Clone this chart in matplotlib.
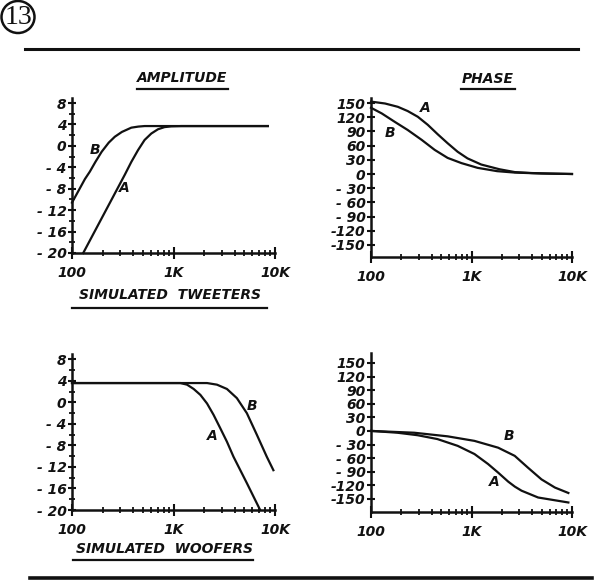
import matplotlib
matplotlib.use('Agg')
import matplotlib.pyplot as plt
from matplotlib.lines import Line2D
from matplotlib.patches import Circle

# ---- data (frequency in Hz) ----
# simulated tweeters, amplitude (dB)
tw_amp_a_f = [129, 331, 384, 447, 519, 604, 703, 815, 950, 1200, 8500]
tw_amp_a_v = [-20, -5.4, -3.0, -0.8, 1.1, 2.3, 3.1, 3.5, 3.65, 3.7, 3.7]
tw_amp_b_f = [100, 115, 134, 150, 170, 196, 230, 264, 310, 384, 450, 520, 8500]
tw_amp_b_v = [-10.6, -8.5, -6.2, -4.8, -3.0, -1.1, 0.6, 1.7, 2.6, 3.4, 3.6, 3.7, 3.7]

# simulated tweeters, phase (deg)
tw_ph_a_f = [100, 138, 185, 232, 292, 367, 461, 579, 728, 913, 1250, 1900,
             2700, 4000, 6000, 10000]
tw_ph_a_v = [153, 149, 142, 133, 121, 104, 84, 65, 47, 33, 20, 10, 4, 2, 1, 0]
tw_ph_b_f = [100, 128, 173, 232, 320, 430, 579, 795, 1150, 1800, 2700, 5000, 10000]
tw_ph_b_v = [140, 128, 110, 93, 72, 51, 34, 23, 13, 6, 3, 1, 0]

# simulated woofers, amplitude (dB)
wf_amp_a_f = [100, 1170, 1360, 1580, 1840, 2140, 2480, 2890, 3360, 3900, 5280, 7140]
wf_amp_a_v = [3.6, 3.6, 3.3, 2.5, 1.4, -0.2, -2.3, -4.8, -7.3, -10.1, -15, -20]
wf_amp_b_f = [100, 2140, 2680, 3360, 4210, 5280, 6620, 8300, 9640]
wf_amp_b_v = [3.6, 3.6, 3.3, 2.5, 0.8, -2.0, -6.0, -10.1, -12.6]

# simulated woofers, phase (deg)
wf_ph_a_f = [100, 183, 291, 458, 729, 1070, 1460, 1840, 2320, 2700, 3150, 4600, 9200]
wf_ph_a_v = [0, -4, -9.5, -18, -33, -51, -73, -92, -112, -123, -132, -147, -158]
wf_ph_b_f = [100, 269, 580, 1070, 1840, 2690, 3640, 4970, 6760, 9200]
wf_ph_b_v = [0, -4, -12, -22, -37, -55, -81, -107, -125, -137]

amp_ticks = [8, 4, 0, -4, -8, -12, -16, -20]
amp_labels = ['8', '4', '0', '- 4', '- 8', '- 12', '- 16', '- 20']
amp_minor = [6, 2, -2, -6, -10, -14, -18]
ph_ticks = [150, 120, 90, 60, 30, 0, -30, -60, -90, -120, -150]
ph_labels = ['150', '120', '90', '60', '30', '0', '- 30', '- 60', '- 90', '-120', '-150']
x_ticks = [100, 1000, 10000]
x_labels = ['100', '1K', '10K']
x_minor = [200, 300, 400, 500, 600, 700, 800, 900,
           2000, 3000, 4000, 5000, 6000, 7000, 8000, 9000]

W, H = 600, 582
INK = '#111111'
plt.rcParams['font.family'] = 'DejaVu Sans'

fig = plt.figure(figsize=(6, 5.82), dpi=100)
fig.patch.set_facecolor('white')


def fx(x):
    return x / W


def fy(y):
    return 1 - y / H


def panel(left, right, top, bottom, ylim, yt, yl, yminor=None):
    ax = fig.add_axes([fx(left), fy(bottom), (right - left) / W, (bottom - top) / H])
    ax.set_xscale('log')
    ax.set_xlim(100, 10000)
    ax.set_ylim(*ylim)
    for s in ('top', 'right'):
        ax.spines[s].set_visible(False)
    for s in ('left', 'bottom'):
        ax.spines[s].set_linewidth(1.8)
        ax.spines[s].set_color(INK)
    tick_font = dict(fontstyle='italic', fontsize=10, fontweight='bold', color=INK)
    ax.set_yticks(yt)
    ax.set_yticklabels(yl, **tick_font)
    if yminor:
        ax.set_yticks(yminor, minor=True)
    ax.set_xticks(x_ticks)
    ax.set_xticklabels(x_labels, **tick_font)
    ax.set_xticks(x_minor, minor=True)
    ax.set_xticklabels([], minor=True)
    ax.tick_params(axis='y', which='major', direction='inout', length=6,
                   width=1.5, pad=1, colors=INK)
    ax.tick_params(axis='y', which='minor', direction='inout', length=5,
                   width=1.3, colors=INK)
    ax.tick_params(axis='x', which='major', direction='inout', length=9,
                   width=1.5, pad=5, colors=INK)
    ax.tick_params(axis='x', which='minor', direction='inout', length=5,
                   width=1.3, colors=INK)
    ax.patch.set_alpha(0)
    return ax


def label(ax, x, y, s):
    ax.text(x, y, s, fontsize=10, fontstyle='italic', fontweight='bold',
            ha='center', va='center', color=INK)


lw = 1.6

ax1 = panel(72, 275, 98.2, 253, (-20, 8.9), amp_ticks, amp_labels, amp_minor)
ax1.plot(tw_amp_a_f, tw_amp_a_v, color=INK, lw=lw, clip_on=False)
ax1.plot(tw_amp_b_f, tw_amp_b_v, color=INK, lw=lw, clip_on=False)
label(ax1, 168, -0.8, 'B')
label(ax1, 331, -7.9, 'A')

ax2 = panel(371, 572, 98.3, 256.8, (-175, 160), ph_ticks, ph_labels)
ax2.plot(tw_ph_a_f, tw_ph_a_v, color=INK, lw=lw, clip_on=False)
ax2.plot(tw_ph_b_f, tw_ph_b_v, color=INK, lw=lw, clip_on=False)
label(ax2, 343, 139, 'A')
label(ax2, 154, 87, 'B')

ax3 = panel(72, 275, 354, 510, (-20, 9), amp_ticks, amp_labels, amp_minor)
ax3.plot(wf_amp_a_f, wf_amp_a_v, color=INK, lw=lw, clip_on=False)
ax3.plot(wf_amp_b_f, wf_amp_b_v, color=INK, lw=lw, clip_on=False)
label(ax3, 5900, -0.65, 'B')
label(ax3, 2410, -6.2, 'A')

ax4 = panel(371, 572, 353, 512, (-179, 172), ph_ticks, ph_labels)
ax4.plot(wf_ph_a_f, wf_ph_a_v, color=INK, lw=lw, clip_on=False)
ax4.plot(wf_ph_b_f, wf_ph_b_v, color=INK, lw=lw, clip_on=False)
label(ax4, 2370, -11, 'B')
label(ax4, 1690, -112, 'A')

# headings with underlines
heads = [('AMPLITUDE', 182, 78, 137, 228, 89),
         ('PHASE', 488, 79, 461, 515, 89),
         ('SIMULATED  TWEETERS', 170, 295, 72, 267, 308),
         ('SIMULATED  WOOFERS', 164, 549, 73, 253, 560)]
for txt, cx, cy, x0, x1, uy in heads:
    fig.text(fx(cx), fy(cy), txt, fontsize=10, fontstyle='italic', fontweight='bold',
             ha='center', va='center', color=INK)
    fig.add_artist(Line2D([fx(x0), fx(x1)], [fy(uy), fy(uy)], lw=1.6, color=INK))

# circled figure number and rules
fig.add_artist(Circle((fx(18), fy(17)), 16.5 / W, transform=fig.transFigure,
                      fill=False, lw=1.8, ec=INK))
fig.text(fx(18.5), fy(18), '13', family='Liberation Serif', fontsize=20,
         ha='center', va='center', color=INK)
fig.add_artist(Line2D([fx(25), fx(578)], [fy(49), fy(49)], lw=2.2, color=INK))
fig.add_artist(Line2D([fx(30), fx(592)], [fy(578), fy(578)], lw=2.6, color=INK))

fig.savefig('out.png', dpi=100, facecolor='white')
